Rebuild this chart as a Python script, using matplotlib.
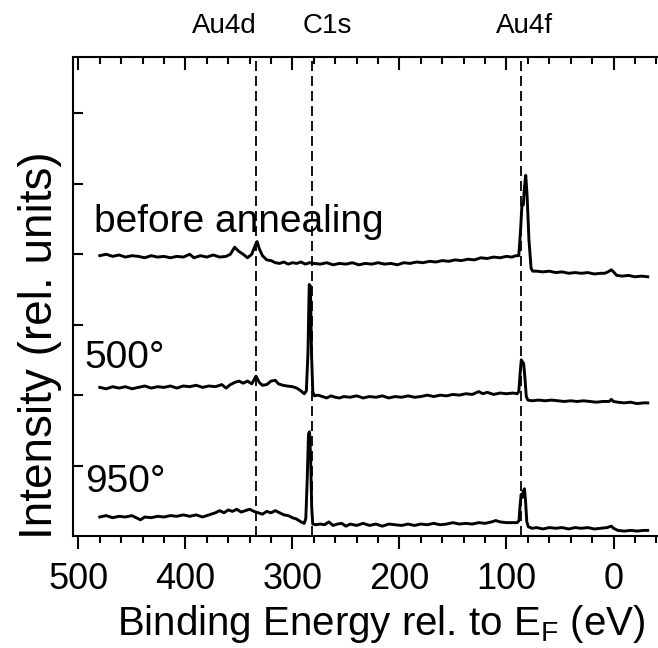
import matplotlib
matplotlib.use('Agg')
import matplotlib.pyplot as plt
from matplotlib.ticker import MultipleLocator, FixedLocator

plt.rcParams['font.family'] = ['Liberation Sans', 'DejaVu Sans']
plt.rcParams['mathtext.fontset'] = 'custom'
plt.rcParams['mathtext.rm'] = 'Liberation Sans'
plt.rcParams['lines.scale_dashes'] = False

# Binding energy (eV) and offset intensity for each spectrum
be_before = [480, 474, 468, 462, 456, 450, 444, 438, 432, 426, 420, 414, 408, 402, 396, 392,
             386, 380, 374, 368, 362, 358, 354, 350, 346, 342, 338, 335, 333, 331, 328, 324,
             320, 316, 312, 308, 304, 300, 296, 292, 288, 284, 280, 274, 268, 262, 256, 250,
             244, 238, 232, 226, 220, 214, 208, 202, 196, 190, 184, 178, 172, 166, 160, 154,
             148, 142, 136, 130, 124, 118, 112, 106, 100, 95, 91, 88.5, 86.8, 85.5, 84.3, 83.2,
             82.0, 80.8, 79.0, 77.0, 75.5, 72, 66, 60, 54, 48, 42, 36, 30, 24, 18, 12,
             8, 4, 2, 0, -3, -8, -14, -20, -26, -32]
int_before = [3.98, 4.00, 3.97, 3.99, 3.96, 3.98, 3.97, 3.95, 3.98, 3.96, 3.97, 3.95, 3.97, 3.96, 4.00, 3.95,
              3.98, 3.96, 3.99, 3.96, 3.97, 4.00, 4.10, 4.04, 4.00, 3.95, 4.00, 4.12, 4.18, 4.08, 3.98, 3.92,
              3.91, 3.88, 3.87, 3.89, 3.86, 3.88, 3.87, 3.89, 3.86, 3.88, 3.87, 3.86, 3.88, 3.85, 3.87, 3.86,
              3.88, 3.85, 3.87, 3.86, 3.88, 3.86, 3.87, 3.85, 3.88, 3.87, 3.89, 3.88, 3.90, 3.89, 3.91, 3.90,
              3.92, 3.91, 3.93, 3.92, 3.95, 3.94, 3.96, 3.95, 3.97, 3.96, 3.98, 3.98, 4.35, 4.72, 4.70, 4.95,
              5.12, 4.85, 4.20, 3.80, 3.76, 3.76, 3.75, 3.76, 3.74, 3.75, 3.73, 3.74, 3.73, 3.74, 3.72, 3.73,
              3.73, 3.76, 3.78, 3.75, 3.70, 3.69, 3.70, 3.68, 3.69, 3.68]

be_500 = [480, 474, 468, 462, 456, 450, 444, 438, 432, 426, 420, 414, 408, 402, 396, 390,
          384, 378, 372, 366, 362, 358, 354, 350, 346, 342, 338, 334, 331, 328, 324, 320,
          316, 313, 309, 305, 300, 296, 292, 289, 287, 285.5, 284.3, 283.2, 282.2, 281, 279.5, 276,
          272, 268, 264, 260, 256, 252, 246, 240, 234, 228, 222, 216, 210, 204, 198, 192,
          186, 180, 174, 168, 162, 156, 150, 144, 138, 132, 126, 122, 118, 112, 106, 100,
          94, 90, 88.5, 87.3, 86.2, 85, 84, 82.8, 81.5, 80, 76, 70, 64, 58, 52, 46,
          40, 34, 28, 22, 16, 10, 4, 2, 0, -4, -10, -16, -22, -28, -32]
int_500 = [2.11, 2.09, 2.12, 2.10, 2.12, 2.09, 2.11, 2.13, 2.10, 2.12, 2.11, 2.13, 2.10, 2.13, 2.12, 2.14,
           2.11, 2.13, 2.12, 2.15, 2.10, 2.15, 2.18, 2.20, 2.17, 2.20, 2.16, 2.27, 2.18, 2.14, 2.15, 2.20,
           2.21, 2.16, 2.14, 2.13, 2.12, 2.10, 2.06, 2.02, 2.06, 2.60, 3.57, 3.55, 2.60, 2.05, 1.99, 2.00,
           1.98, 1.96, 1.99, 1.97, 1.96, 1.98, 1.97, 1.99, 1.96, 1.98, 1.97, 1.99, 1.96, 1.98, 1.97, 1.99,
           1.97, 1.98, 2.00, 1.98, 2.00, 1.99, 2.01, 2.00, 2.02, 2.01, 2.05, 2.02, 2.04, 2.01, 2.03, 2.02,
           2.03, 2.02, 2.05, 2.30, 2.50, 2.47, 2.45, 2.25, 1.98, 1.93, 1.92, 1.93, 1.92, 1.93, 1.92, 1.91,
           1.92, 1.91, 1.92, 1.91, 1.90, 1.91, 1.91, 1.94, 1.91, 1.90, 1.89, 1.90, 1.88, 1.89, 1.89]

be_950 = [480, 474, 468, 462, 456, 450, 446, 442, 438, 432, 426, 420, 414, 408, 402, 396,
          390, 384, 378, 372, 368, 364, 360, 356, 352, 348, 344, 340, 336, 332, 328, 324,
          320, 316, 312, 308, 304, 300, 296, 292, 289, 287.5, 286.2, 285, 284, 283, 282, 281,
          278, 274, 270, 266, 262, 258, 254, 250, 246, 240, 234, 228, 222, 216, 210, 204,
          198, 192, 186, 180, 174, 168, 162, 156, 150, 144, 138, 132, 126, 120, 114, 110,
          106, 100, 94, 90, 88.3, 87.2, 86.3, 85.2, 84.2, 83.2, 82.2, 81, 79.5, 76, 72, 66,
          60, 54, 48, 42, 36, 30, 24, 18, 12, 6, 2, 0, -4, -10, -16, -22, -28, -32]
int_950 = [0.27, 0.29, 0.26, 0.28, 0.27, 0.29, 0.26, 0.23, 0.27, 0.26, 0.28, 0.27, 0.29, 0.28, 0.30, 0.28,
           0.30, 0.27, 0.30, 0.33, 0.36, 0.33, 0.37, 0.35, 0.38, 0.34, 0.36, 0.38, 0.35, 0.33, 0.31, 0.35,
           0.33, 0.36, 0.33, 0.30, 0.29, 0.26, 0.24, 0.20, 0.18, 0.25, 0.80, 1.45, 1.48, 1.10, 0.40, 0.17,
           0.16, 0.17, 0.16, 0.20, 0.15, 0.17, 0.18, 0.14, 0.17, 0.15, 0.18, 0.15, 0.17, 0.14, 0.17, 0.16,
           0.15, 0.17, 0.15, 0.17, 0.16, 0.18, 0.16, 0.17, 0.19, 0.17, 0.18, 0.17, 0.19, 0.18, 0.20, 0.22,
           0.20, 0.19, 0.19, 0.19, 0.22, 0.45, 0.59, 0.55, 0.64, 0.67, 0.50, 0.20, 0.13, 0.11, 0.12, 0.10,
           0.12, 0.11, 0.12, 0.10, 0.12, 0.11, 0.12, 0.10, 0.11, 0.12, 0.14, 0.11, 0.08, 0.07, 0.08, 0.07,
           0.08, 0.08]

# Core-level positions marked with dashed lines
peak_names = ['Au4d', 'C1s', 'Au4f']
peak_be = [334, 281.5, 86]
peak_label_x = [364, 267, 83]

# Spectrum labels: text, energy of the left edge, height of the baseline
trace_labels = ['before annealing', '500°', '950°']
trace_label_x = [485, 494, 494]
trace_label_y = [4.32, 2.39, 0.62]

fig = plt.figure(figsize=(6.58, 6.48), dpi=100)
ax = fig.add_axes([0.111, 0.1728, 0.8897, 0.7392])

for be, inten in [(be_before, int_before), (be_500, int_500), (be_950, int_950)]:
    ax.plot(be, inten, color='black', lw=2.1, solid_joinstyle='round')

for e in peak_be:
    ax.axvline(e, color='black', lw=1.3, dashes=(7.2, 3.6))

for name, x in zip(peak_names, peak_label_x):
    ax.text(x, 1.05, name, transform=ax.get_xaxis_transform(), ha='center', va='baseline',
            fontsize=20, clip_on=False)

for text, x, y in zip(trace_labels, trace_label_x, trace_label_y):
    ax.text(x, y, text, ha='left', va='baseline', fontsize=28)

ax.set_xlim(505, -42)
ax.set_ylim(0, 6.8)

ax.xaxis.set_major_locator(MultipleLocator(100))
ax.xaxis.set_minor_locator(MultipleLocator(20))
ax.yaxis.set_major_locator(FixedLocator([1, 2, 3, 4, 5, 6]))
ax.set_yticklabels([])

ax.tick_params(axis='x', which='both', bottom=True, top=True, width=1.5, labelsize=26, pad=9)
ax.tick_params(axis='x', which='major', length=9.4)
ax.tick_params(axis='x', which='minor', length=5)
ax.tick_params(axis='y', which='major', left=True, right=False, direction='in', length=7.2, width=1.5)
# ticks on the top edge point inward, on the bottom edge outward
for t in ax.xaxis.get_major_ticks() + ax.xaxis.get_minor_ticks():
    t.tick2line.set_marker(3)

for side in ['left', 'top', 'bottom']:
    ax.spines[side].set_linewidth(1.5)
ax.spines['right'].set_visible(False)

fig.text(381 / 658, 1 - 635 / 648, 'Binding Energy rel. to E$_\\mathrm{F}$ (eV)',
         ha='center', va='baseline', fontsize=29)
fig.text(40 / 658, 1 - 345 / 648, 'Intensity (rel. units)', rotation=90,
         ha='center', va='center', fontsize=33)

fig.savefig('out.png', dpi=100)
